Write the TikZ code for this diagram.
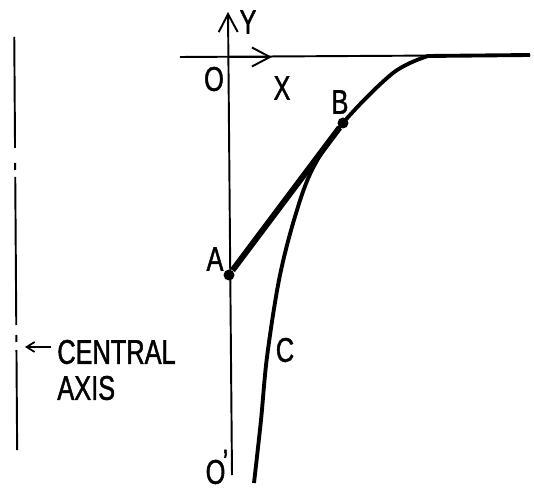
\documentclass[tikz,border=0pt]{standalone}
\usepackage{fontspec}
\setmainfont[FakeStretch=0.74,FakeBold=1.2]{Liberation Sans}
\usetikzlibrary{arrows.meta}

\begin{document}
\begin{tikzpicture}[
  x=0.02cm, y=-0.02cm,
  thin line/.style={line width=1.1pt},
  curve/.style={line width=2.2pt},
  heavy/.style={line width=3.4pt},
  dot/.style={circle,fill,inner sep=0pt,minimum size=0.22cm},
  lbl/.style={inner sep=0pt,font=\fontsize{19.5}{21}\selectfont},
  barb/.style={-{Straight Barb[length=0.36cm,width=0.38cm,line width=1.1pt]}}
]
  \useasboundingbox (0,0) rectangle (534,489);
  % axes
  \coordinate (xl) at (180,57);
  \coordinate (xr) at (530,55);
  \coordinate (o) at (229,57);
  \coordinate (xt) at (272,57);
  \coordinate (yb) at (232,475);
  \coordinate (yt) at (228,12);
  \draw[thin line] (xl) -- (xr);
  \draw[thin line,barb] (yb) -- (yt);
  \draw[thin line,barb] (o) -- (xt);
  % central axis
  \foreach \a/\b in {37/148,163/170,177/325,335/342,350/450}
    \draw[thin line] (14+\a*0.007,\a) -- (14+\b*0.007,\b);
  \coordinate (ct) at (25,347);
  \coordinate (cs) at (51,347);
  \draw[line width=1pt,-{Straight Barb[length=0.16cm,width=0.2cm]}] (cs) -- (ct);
  \node[lbl,anchor=west] (central) at (57,352) {CENTRAL};
  \node[lbl,anchor=west] (axis) at (57,388) {AXIS};
  % curve C
  \draw[curve] plot[smooth,tension=0.55] coordinates
    {(254,483) (261,420) (267,357) (279,280) (294,220) (312,170) (343,123) (393,73) (428,56)}
    -- (xr);
  % points
  \node[dot] (A) at (229,275) {};
  \node[dot] (B) at (343,123) {};
  \draw[heavy] (A) -- (B);
  % labels
  \node[lbl] (Ylbl) at (248,22) {Y};
  \node[lbl] (Olbl) at (214,79) {O};
  \node[lbl] (Xlbl) at (282,88) {X};
  \node[lbl] (Blbl) at (340,102) {B};
  \node[lbl] (Albl) at (215,259) {A};
  \node[lbl] (Clbl) at (285,350) {C};
  \node[lbl] (O2lbl) at (217,467) {O\kern-0.08em\raisebox{0.3em}{\char"2019}};
\end{tikzpicture}
\end{document}
